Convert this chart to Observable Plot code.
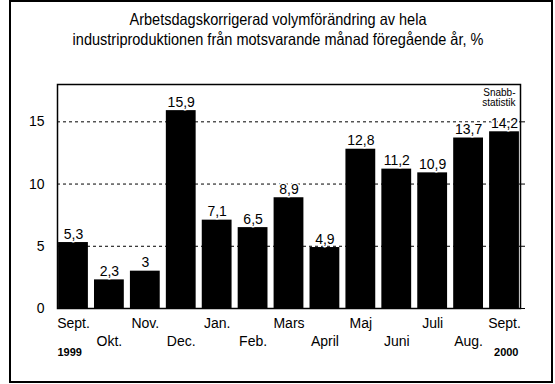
<!DOCTYPE html>
<html>
<head>
<meta charset="utf-8">
<script src="https://cdn.jsdelivr.net/npm/d3@7"></script>
<script src="https://cdn.jsdelivr.net/npm/@observablehq/plot@0.6"></script>
<style>
  html, body { margin: 0; padding: 0; background: #fff; }
  #wrap { position: relative; width: 555px; height: 384px; overflow: hidden; font-family: "Liberation Sans", Arial, sans-serif; }
  #frame { position: absolute; left: 9px; top: 0px; width: 544px; height: 383px; box-sizing: border-box; border: 2px solid #000; pointer-events: none; }
  #title { position: absolute; left: 0; top: 9px; width: 556px; text-align: center; font-size: 16.5px; line-height: 20px; color: #000; }
  #title div { transform: scaleX(0.88); transform-origin: 278px 0; white-space: nowrap; }
  #chart { position: absolute; left: 0; top: 60px; }
  #chart g[aria-label="note"] text { letter-spacing: 1px; }
</style>
</head>
<body>
<div id="wrap">
  <div id="title"></div>
  <div id="chart"></div>
  <div id="frame"></div>
</div>
<script>
const titleLines = [
  "Arbetsdagskorrigerad volymförändring av hela",
  "industriproduktionen från motsvarande månad föregående år, %"
];
const periods = ["1999-09","1999-10","1999-11","1999-12","2000-01","2000-02","2000-03","2000-04","2000-05","2000-06","2000-07","2000-08","2000-09"];
const monthLabels = ["Sept.","Okt.","Nov.","Dec.","Jan.","Feb.","Mars","April","Maj","Juni","Juli","Aug.","Sept."];
const values = [5.3, 2.3, 3, 15.9, 7.1, 6.5, 8.9, 4.9, 12.8, 11.2, 10.9, 13.7, 14.2];
const valueLabels = ["5,3","2,3","3","15,9","7,1","6,5","8,9","4,9","12,8","11,2","10,9","13,7","14,2"];
const yTicks = [0, 5, 10, 15];
const gridValues = [5, 10, 15];
const yDomain = [0, 18];
const years = ["1999", "2000"];
const note = "Snabb-\nstatistik";

document.getElementById("title").innerHTML = titleLines.map(t => `<div>${t}</div>`).join("");

const rows = periods.map((p, i) => ({period: p, value: values[i], label: valueLabels[i]}));
const labelOf = new Map(periods.map((p, i) => [p, monthLabels[i]]));

const chart = Plot.plot({
  width: 555,
  height: 324,
  marginLeft: 57,
  marginRight: 35,
  marginTop: 24,
  marginBottom: 76,
  style: {fontFamily: '"Liberation Sans", Arial, sans-serif', fontSize: "14px", color: "black", background: "transparent"},
  x: {domain: periods, paddingInner: 0.17, paddingOuter: 0.03, round: false, axis: null},
  y: {domain: yDomain, axis: null},
  marks: [
    Plot.ruleY(gridValues, {stroke: "black", strokeDasharray: "3,3", strokeWidth: 1}),
    Plot.barY(rows, {x: "period", y: "value", fill: "black"}),
    Plot.frame({stroke: "black", strokeWidth: 1.5}),
    Plot.axisY(yTicks, {anchor: "left", tickSize: 0, tickPadding: 13, fontSize: 14, label: null, ariaLabel: "ylabels"}),
    Plot.axisY(yTicks, {anchor: "right", tickSize: 4, tickFormat: () => "", label: null}),
    Plot.axisX(periods.filter((d, i) => i % 2 === 0), {anchor: "bottom", tickSize: 0, tickPadding: 10, fontSize: 14, label: null, tickFormat: d => labelOf.get(d)}),
    Plot.axisX(periods.filter((d, i) => i % 2 === 1), {anchor: "bottom", tickSize: 0, tickPadding: 28, fontSize: 14, label: null, tickFormat: d => labelOf.get(d)}),
    Plot.text(rows, {x: "period", y: "value", text: "label", dy: -4, lineAnchor: "bottom", fill: "black", stroke: "white", strokeWidth: 3, fontSize: 14, ariaLabel: "vlabels"}),
    Plot.text([years[0]], {text: d => d, frameAnchor: "bottom-left", textAnchor: "start", lineAnchor: "top", dy: 40, fontWeight: "bold", fontSize: 11, ariaLabel: "years"}),
    Plot.text([years[1]], {text: d => d, frameAnchor: "bottom-right", textAnchor: "end", lineAnchor: "top", dx: -2, dy: 40, fontWeight: "bold", fontSize: 11, ariaLabel: "years"}),
    Plot.text([note], {text: d => d, frameAnchor: "top-right", textAnchor: "end", lineAnchor: "top", dx: -5, dy: 4, fontSize: 10, lineHeight: 1.05, ariaLabel: "note"})
  ]
});
document.getElementById("chart").appendChild(chart);

// condense (narrow font look) selected texts horizontally around their anchor
function squeeze(selector, s) {
  chart.querySelectorAll(selector).forEach(t => {
    const c = t.transform.baseVal.consolidate();
    const tx = c ? c.matrix.e : 0;
    const x = parseFloat(t.getAttribute("x")) || 0;
    const ax = tx + x;
    const g = document.createElementNS("http://www.w3.org/2000/svg", "g");
    g.setAttribute("transform", `translate(${ax},0) scale(${s},1) translate(${-ax},0)`);
    t.parentNode.insertBefore(g, t);
    g.appendChild(t);
  });
}
squeeze('g[aria-label="vlabels"] text', 0.8);
squeeze('g[aria-label="ylabels"] text', 0.85);
squeeze('g[aria-label="years"] text', 0.85);
</script>
</body>
</html>
